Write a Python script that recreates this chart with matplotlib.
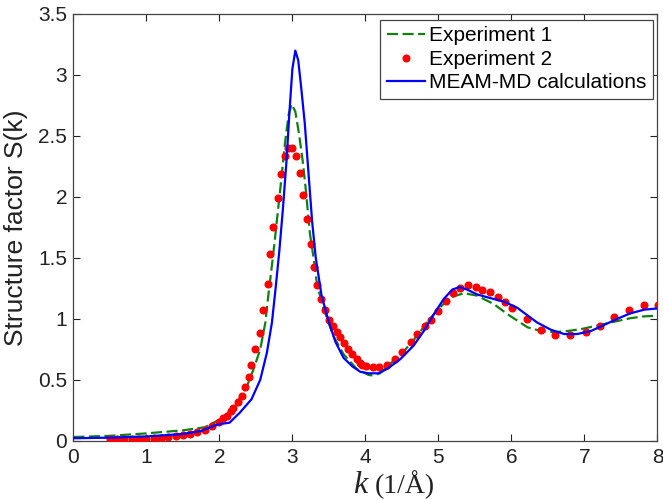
import matplotlib
matplotlib.use('Agg')
import matplotlib.pyplot as plt
import numpy as np

# Experiment 1 (green dashed)
k_exp1 = [0, 0.5, 1.0, 1.5, 1.8, 2.06, 2.24, 2.38, 2.47, 2.56, 2.63, 2.67, 2.72, 2.76,
          2.81, 2.86, 2.90, 2.95, 2.99, 3.04, 3.09, 3.14, 3.18, 3.24, 3.29, 3.34, 3.43,
          3.56, 3.70, 3.88, 4.04, 4.10, 4.20, 4.34, 4.55, 4.71, 4.84, 5.00, 5.16, 5.35,
          5.53, 5.76, 5.94, 6.08, 6.22, 6.40, 6.58, 6.77, 6.95, 7.18, 7.40, 7.63, 7.82, 8.0]
s_exp1 = [0.03, 0.04, 0.06, 0.085, 0.11, 0.19, 0.31, 0.45, 0.59, 0.75, 0.97, 1.19, 1.44, 1.65,
          1.93, 2.21, 2.45, 2.68, 2.76, 2.70, 2.52, 2.30, 2.08, 1.70, 1.50, 1.27, 1.08,
          0.86, 0.71, 0.59, 0.54, 0.535, 0.553, 0.63, 0.75, 0.86, 0.97, 1.08, 1.175, 1.21,
          1.19, 1.12, 1.04, 0.985, 0.93, 0.90, 0.89, 0.90, 0.915, 0.945, 0.975, 1.005, 1.02, 1.025]

# Experiment 2 (red dots)
k_exp2 = [0.5, 0.6, 0.7, 0.8, 0.9, 1.0, 1.1, 1.2, 1.3, 1.4, 1.5, 1.6, 1.7, 1.8, 1.9, 1.99,
          2.055, 2.10, 2.16, 2.19, 2.25, 2.31, 2.35, 2.41, 2.44, 2.49, 2.55, 2.60, 2.66,
          2.69, 2.74, 2.80, 2.84, 2.90, 2.94, 2.99, 3.05, 3.10, 3.15, 3.20, 3.25, 3.29,
          3.34, 3.39, 3.45, 3.50, 3.55, 3.61, 3.65, 3.70, 3.76, 3.82, 3.88, 3.92, 3.96,
          4.01, 4.10, 4.19, 4.30, 4.40, 4.50, 4.62, 4.71, 4.81, 4.90, 5.00, 5.11, 5.20,
          5.30, 5.40, 5.51, 5.60, 5.70, 5.81, 5.91, 6.01, 6.21, 6.41, 6.60, 6.80, 7.02,
          7.21, 7.41, 7.61, 7.81, 8.01]
s_exp2 = [0.01, 0.01, 0.015, 0.015, 0.015, 0.015, 0.02, 0.025, 0.03, 0.035, 0.045, 0.055,
          0.07, 0.09, 0.118, 0.151, 0.187, 0.206, 0.242, 0.27, 0.316, 0.366, 0.443, 0.526,
          0.625, 0.749, 0.884, 1.068, 1.288, 1.528, 1.756, 1.99, 2.188, 2.334, 2.403, 2.403,
          2.334, 2.197, 2.012, 1.817, 1.61, 1.426, 1.274, 1.159, 1.068, 0.994, 0.944, 0.894,
          0.848, 0.798, 0.751, 0.71, 0.669, 0.641, 0.625, 0.614, 0.608, 0.608, 0.619, 0.669,
          0.729, 0.807, 0.875, 0.939, 0.991, 1.06, 1.142, 1.211, 1.252, 1.274, 1.261, 1.239,
          1.219, 1.178, 1.137, 1.088, 0.999, 0.908, 0.87, 0.87, 0.889, 0.944, 1.013, 1.068,
          1.109, 1.109]

# MEAM-MD calculations (blue solid)
k_md = [0, 0.5, 1.0, 1.5, 1.75, 1.96, 2.05, 2.14, 2.28, 2.44, 2.56, 2.65, 2.72, 2.77, 2.82,
        2.87, 2.92, 2.96, 3.00, 3.04, 3.08, 3.12, 3.17, 3.22, 3.27, 3.32, 3.40, 3.50, 3.59,
        3.70, 3.82, 3.93, 4.04, 4.18, 4.30, 4.48, 4.66, 4.80, 4.94, 5.07, 5.19, 5.29, 5.39,
        5.53, 5.71, 5.90, 6.08, 6.17, 6.35, 6.54, 6.72, 6.90, 7.09, 7.27, 7.45, 7.63, 7.82, 8.0]
s_md = [0.02, 0.025, 0.035, 0.055, 0.08, 0.13, 0.14, 0.148, 0.23, 0.34, 0.50, 0.72, 0.97, 1.25,
        1.55, 1.90, 2.30, 2.70, 3.05, 3.20, 3.12, 2.90, 2.60, 2.20, 1.80, 1.50, 1.19, 0.97, 0.81,
        0.68, 0.61, 0.565, 0.553, 0.553, 0.59, 0.67, 0.78, 0.90, 1.04, 1.16, 1.24, 1.26, 1.24,
        1.20, 1.17, 1.14, 1.09, 1.05, 0.97, 0.91, 0.875, 0.875, 0.90, 0.95, 1.00, 1.045, 1.075, 1.085]

xticks = [0, 1, 2, 3, 4, 5, 6, 7, 8]
yticks = [0, 0.5, 1, 1.5, 2, 2.5, 3, 3.5]
ytick_labels = ['0', '0.5', '1', '1.5', '2', '2.5', '3', '3.5']

plt.rcParams['font.family'] = ['Liberation Sans', 'DejaVu Sans']

fig = plt.figure(figsize=(6.63, 5.0), dpi=100, facecolor='white')
ax = fig.add_axes([0.1106, 0.1186, 0.8811, 0.8534])

ax.plot(k_exp1, s_exp1, color='#118011', lw=1.6, ls=(0, (5, 2)), label='Experiment 1', zorder=2)
ax.plot(k_exp2, s_exp2, ls='none', marker='o', ms=4.8, color='#ff0000', mec='#ff0000',
        label='Experiment 2', zorder=3)
ax.plot(k_md, s_md, color='#0000ff', lw=1.6, label='MEAM-MD calculations', zorder=4)

ax.set_xlim(0, 8)
ax.set_ylim(0, 3.5)
ax.set_xticks(xticks)
ax.set_yticks(yticks)
ax.set_yticklabels(ytick_labels)
ax.tick_params(direction='in', length=5, width=0.8, top=True, right=True,
               labelsize=15, colors='#222222')
ax.tick_params(axis='y', pad=4.5)
ax.tick_params(axis='x', pad=5)
for sp in ax.spines.values():
    sp.set_color('#444444')
    sp.set_linewidth(0.9)

ax.set_ylabel('Structure factor S(k)', fontsize=19, color='#222222')
ax.yaxis.set_label_coords(-0.078, 0.5)

# x label: italic serif k plus roman unit
fig.text(353 / 663, 0.014, 'k', fontsize=23, fontstyle='italic',
         family=['Liberation Serif', 'DejaVu Serif'], ha='left', va='baseline', color='#222222')
fig.text(375 / 663, 0.014, '(1/Å)', fontsize=20,
         family=['Liberation Serif', 'DejaVu Serif'], ha='left', va='baseline', color='#222222')

leg = ax.legend(loc='upper right', bbox_to_anchor=(653 / 663, 1 - 20 / 500),
                bbox_transform=fig.transFigure, borderaxespad=0, fontsize=15,
                handlelength=1.85, handletextpad=0.2, labelspacing=0.22,
                borderpad=0.3, fancybox=False, framealpha=1)
leg.get_frame().set_edgecolor('#444444')
leg.get_frame().set_linewidth(0.9)

fig.savefig('out.png', dpi=100, facecolor='white')
